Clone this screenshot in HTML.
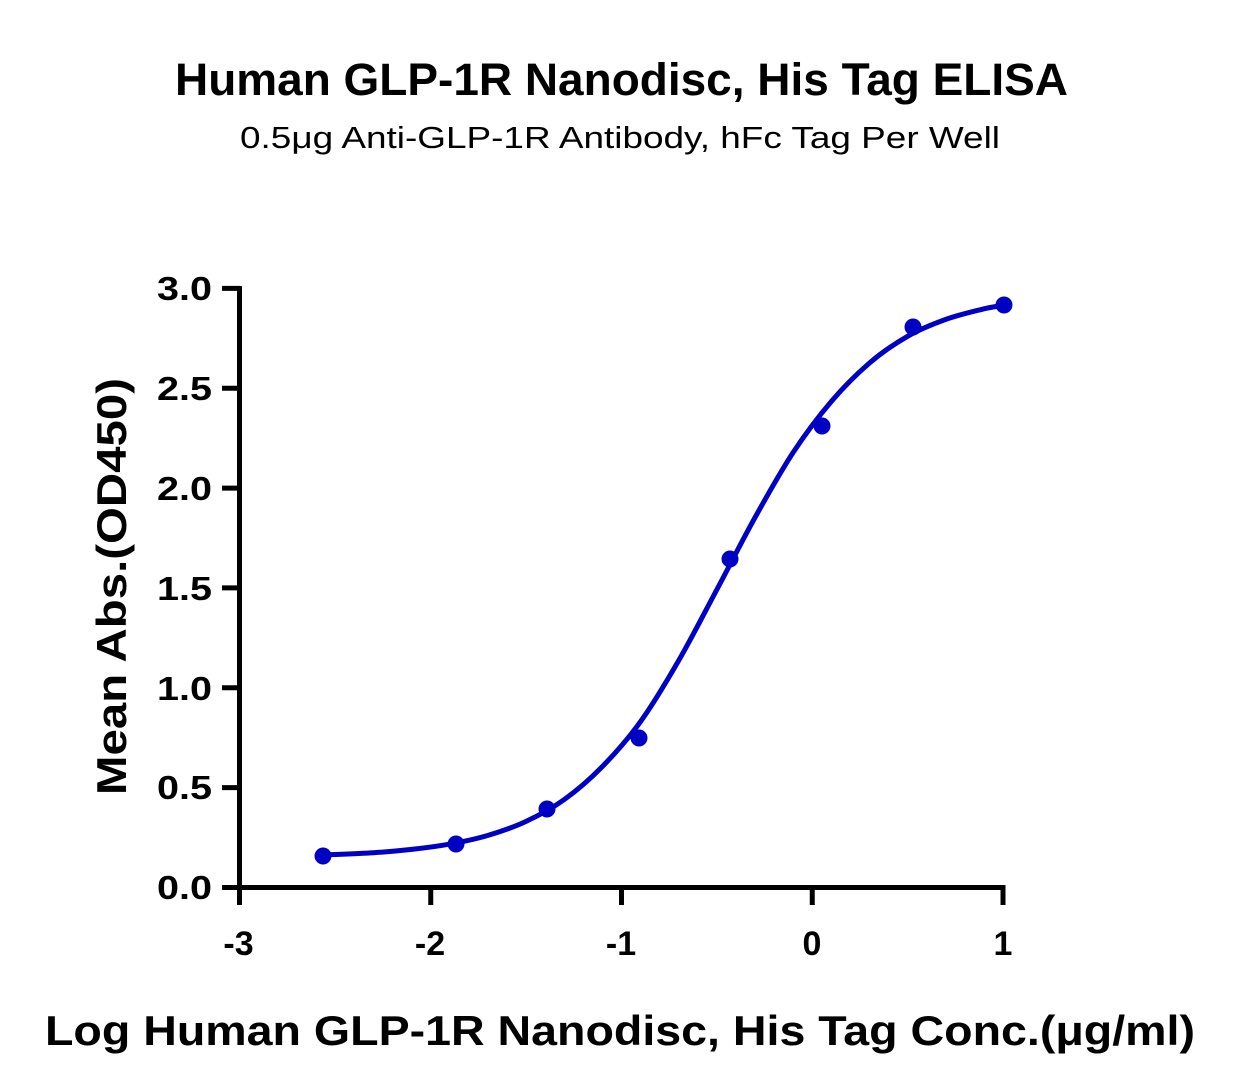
<!DOCTYPE html>
<html>
<head>
<meta charset="utf-8">
<style>
html,body{margin:0;padding:0;background:#fff;}
svg{display:block;}
text{font-family:"Liberation Sans",sans-serif;fill:#000;}
</style>
</head>
<body>
<svg width="1242" height="1087" viewBox="0 0 1242 1087" xmlns="http://www.w3.org/2000/svg">
<rect width="1242" height="1087" fill="#fff"/>
<!-- Title -->
<text x="621.5" y="95" text-anchor="middle" font-size="45" font-weight="bold" textLength="893" lengthAdjust="spacingAndGlyphs">Human GLP-1R Nanodisc, His Tag ELISA</text>
<text x="620" y="148" text-anchor="middle" font-size="31" textLength="760" lengthAdjust="spacingAndGlyphs">0.5μg Anti-GLP-1R Antibody, hFc Tag Per Well</text>

<!-- Axes -->
<g stroke="#000" stroke-width="5" fill="none">
<line x1="239.5" y1="286" x2="239.5" y2="890"/>
<line x1="222" y1="887.5" x2="1005.5" y2="887.5"/>
<!-- y ticks -->
<line x1="222" y1="288.4" x2="240" y2="288.4"/>
<line x1="222" y1="388.2" x2="240" y2="388.2"/>
<line x1="222" y1="488.1" x2="240" y2="488.1"/>
<line x1="222" y1="587.9" x2="240" y2="587.9"/>
<line x1="222" y1="687.8" x2="240" y2="687.8"/>
<line x1="222" y1="787.6" x2="240" y2="787.6"/>
<!-- x ticks -->
<line x1="239.5" y1="887" x2="239.5" y2="905"/>
<line x1="430.75" y1="887" x2="430.75" y2="905"/>
<line x1="621.5" y1="887" x2="621.5" y2="905"/>
<line x1="812.25" y1="887" x2="812.25" y2="905"/>
<line x1="1003" y1="887" x2="1003" y2="905"/>
</g>

<!-- y tick labels -->
<g font-size="33" font-weight="bold" text-anchor="end">
<text x="212" y="300" textLength="55" lengthAdjust="spacingAndGlyphs">3.0</text>
<text x="212" y="400" textLength="55" lengthAdjust="spacingAndGlyphs">2.5</text>
<text x="212" y="500" textLength="55" lengthAdjust="spacingAndGlyphs">2.0</text>
<text x="212" y="600" textLength="55" lengthAdjust="spacingAndGlyphs">1.5</text>
<text x="212" y="700" textLength="55" lengthAdjust="spacingAndGlyphs">1.0</text>
<text x="212" y="799" textLength="55" lengthAdjust="spacingAndGlyphs">0.5</text>
<text x="212" y="899" textLength="55" lengthAdjust="spacingAndGlyphs">0.0</text>
</g>

<!-- x tick labels -->
<g font-size="34" font-weight="bold" text-anchor="middle">
<text x="238.5" y="955">-3</text>
<text x="430" y="955">-2</text>
<text x="621" y="955">-1</text>
<text x="812" y="955">0</text>
<text x="1003" y="955">1</text>
</g>

<!-- axis titles -->
<text x="620" y="1045" text-anchor="middle" font-size="42" font-weight="bold" textLength="1150" lengthAdjust="spacingAndGlyphs">Log Human GLP-1R Nanodisc, His Tag Conc.(μg/ml)</text>
<text transform="translate(126,586.5) rotate(-90)" x="0" y="0" text-anchor="middle" font-size="42" font-weight="bold" textLength="417" lengthAdjust="spacingAndGlyphs">Mean Abs.(OD450)</text>

<!-- curve -->
<path fill="none" stroke="#0000c4" stroke-width="5" stroke-linecap="round" d="M323.9,855.0
C332.2,854.6 358.9,853.6 373.5,852.7
C388.1,851.8 399.0,850.8 411.7,849.4
C424.4,848.0 437.1,846.4 449.8,844.1
C462.5,841.8 475.3,839.2 488.0,835.4
C500.7,831.6 513.4,827.4 526.1,821.4
C538.8,815.4 551.6,808.7 564.3,799.5
C577.0,790.4 589.7,779.5 602.4,766.5
C615.1,753.5 627.9,739.2 640.6,721.5
C653.3,703.8 666.0,682.5 678.7,660.5
C691.4,638.5 704.2,613.3 716.9,589.5
C729.6,565.7 742.3,540.4 755.0,517.5
C767.7,494.7 780.5,471.7 793.2,452.4
C805.9,433.1 818.6,416.4 831.3,401.5
C844.0,386.6 856.8,373.9 869.5,363.0
C882.2,352.1 894.9,343.6 907.6,336.3
C920.3,329.0 933.1,324.0 945.8,319.4
C958.5,314.8 974.5,311.2 984.0,308.8
C988.8,307.6 999.8,305.8 1003,305.2"/>

<!-- points -->
<g fill="#0000c4">
<circle cx="323" cy="856" r="8.5"/>
<circle cx="456" cy="844" r="8.5"/>
<circle cx="547" cy="809" r="8.5"/>
<circle cx="639" cy="738" r="8.5"/>
<circle cx="730" cy="559" r="8.5"/>
<circle cx="822" cy="426" r="8.5"/>
<circle cx="913" cy="327" r="8.5"/>
<circle cx="1004" cy="305" r="8.5"/>
</g>
</svg>
</body>
</html>
